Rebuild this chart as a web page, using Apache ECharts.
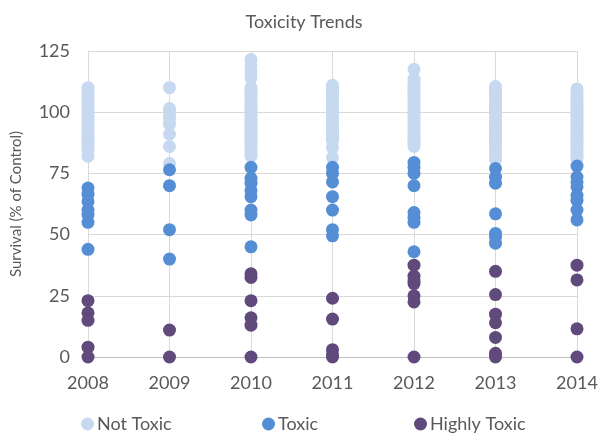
<!DOCTYPE html>
<html>
<head>
<meta charset="utf-8">
<script src="https://cdn.jsdelivr.net/npm/echarts@6/dist/echarts.min.js"></script>
<style>
  html, body { margin: 0; padding: 0; background: #fff; }
</style>
</head>
<body>
<div id="chart" style="width: 608px; height: 434px"></div>
<script>
const years = [2008, 2009, 2010, 2011, 2012, 2013, 2014]
const yTicks = [0, 25, 50, 75, 100, 125]
const seriesNames = ['Not Toxic', 'Toxic', 'Highly Toxic']

// survival values per year, same order as years
const notToxic = [
  [110, 109, 108, 107, 106, 105, 104, 103, 102, 101, 100, 99, 98, 97, 96, 95, 94, 93, 92, 91, 90, 89, 88, 87, 86, 85, 84, 82],
  [110, 101.5, 100, 98.5, 97, 95, 91, 86, 79],
  [121.5, 119, 116.5, 114, 110, 109, 108, 107, 106, 105, 104, 103, 102, 101, 100, 99, 98, 97, 96, 95, 94, 93, 92, 91, 90, 89, 88, 87, 86, 85, 84, 83, 82],
  [111, 110, 109, 108, 107, 106, 105, 104, 103, 102, 101, 100, 99, 98, 97, 96, 95, 94, 93, 92, 91, 90, 89, 88.5, 85.5, 81.5],
  [117.5, 113.5, 112, 111, 110, 109, 108, 107, 106, 105, 104, 103, 102, 101, 100, 99, 98, 97, 96, 95, 94, 93, 92, 91, 90, 89, 88, 87, 86],
  [110.5, 109, 108, 107, 106, 105, 104, 103, 102, 101, 100, 99, 98, 97, 96, 95, 94, 93, 92, 91, 90, 89, 88, 87, 86, 84, 82, 80.5],
  [109.5, 108.5, 107, 106, 105, 104, 103, 102, 101, 100, 99, 98, 97, 96, 95, 94, 93, 92, 91, 90, 89, 88, 87, 86, 85, 84, 83, 82, 81]
]
const toxic = [
  [69, 66.5, 63.5, 60, 58, 55, 44],
  [76.5, 70, 52, 40],
  [77.5, 73, 71, 68, 65.5, 60, 58, 45],
  [77.5, 75, 71.5, 65.5, 60, 52, 49.5],
  [79.5, 77.5, 75, 70, 59, 57, 55, 43],
  [77, 73.5, 71, 58.5, 50.5, 49, 46.5],
  [78, 73.5, 71.5, 69.5, 66, 64, 60, 56]
]
const highlyToxic = [
  [23, 18, 15, 4, 0],
  [11, 0],
  [34, 32.5, 23, 16, 13, 0],
  [24, 15.5, 3, 1, 0],
  [37.5, 33, 31, 30, 25, 22.5, 0],
  [35, 25.5, 17.5, 14, 8, 1.5, 0],
  [37.5, 31.5, 11.5, 0]
]

function toPoints(perYear) {
  const pts = []
  perYear.forEach((vals, i) => {
    vals.forEach(v => pts.push([years[i], v]))
  })
  return pts
}

const chart = echarts.init(document.getElementById('chart'))
const textColor = '#595959'
const font = 'Lato, "Open Sans", sans-serif'

// one legend per item so each sits where the original has it
const legendLeft = [76, 257, 409]
const legends = seriesNames.map((name, i) => ({
  top: 410,
  left: legendLeft[i],
  itemWidth: 13,
  itemHeight: 13,
  icon: 'circle',
  textStyle: { color: textColor, fontSize: 18, fontFamily: font, padding: [0, 0, 0, -2] },
  data: [name]
}))

const option = {
  animation: false,
  title: {
    text: 'Toxicity Trends',
    left: 'center',
    top: 8,
    textStyle: { color: textColor, fontSize: 18, fontWeight: 'normal', fontFamily: font }
  },
  legend: legends,
  grid: {
    left: 88,
    right: 31,
    top: 51,
    bottom: 77
  },
  xAxis: {
    type: 'value',
    min: years[0],
    max: years[years.length - 1],
    interval: 1,
    axisLine: { show: true, onZero: false, lineStyle: { color: '#bfbfbf' } },
    axisTick: { show: false },
    axisLabel: { color: textColor, fontSize: 18, fontFamily: font, margin: 17, formatter: v => String(v) },
    splitLine: { show: true, lineStyle: { color: '#d9d9d9' } }
  },
  yAxis: {
    type: 'value',
    min: yTicks[0],
    max: yTicks[yTicks.length - 1],
    interval: 25,
    name: 'Survival (% of Control)',
    nameLocation: 'middle',
    nameGap: 64,
    nameTextStyle: { color: textColor, fontSize: 15, fontFamily: font },
    axisLine: { show: true, lineStyle: { color: '#d9d9d9' } },
    axisTick: { show: false },
    axisLabel: { color: textColor, fontSize: 18, fontFamily: font, margin: 18 },
    splitLine: { show: true, lineStyle: { color: '#d9d9d9' } }
  },
  series: [
    {
      name: seriesNames[0],
      type: 'scatter',
      symbolSize: 13,
      itemStyle: { color: '#c6d9f0', opacity: 1 },
      data: toPoints(notToxic)
    },
    {
      name: seriesNames[1],
      type: 'scatter',
      symbolSize: 13,
      itemStyle: { color: '#558ed5', opacity: 1 },
      data: toPoints(toxic)
    },
    {
      name: seriesNames[2],
      type: 'scatter',
      symbolSize: 13,
      itemStyle: { color: '#604a7b', opacity: 1 },
      data: toPoints(highlyToxic)
    }
  ]
}
chart.setOption(option)
</script>
</body>
</html>
